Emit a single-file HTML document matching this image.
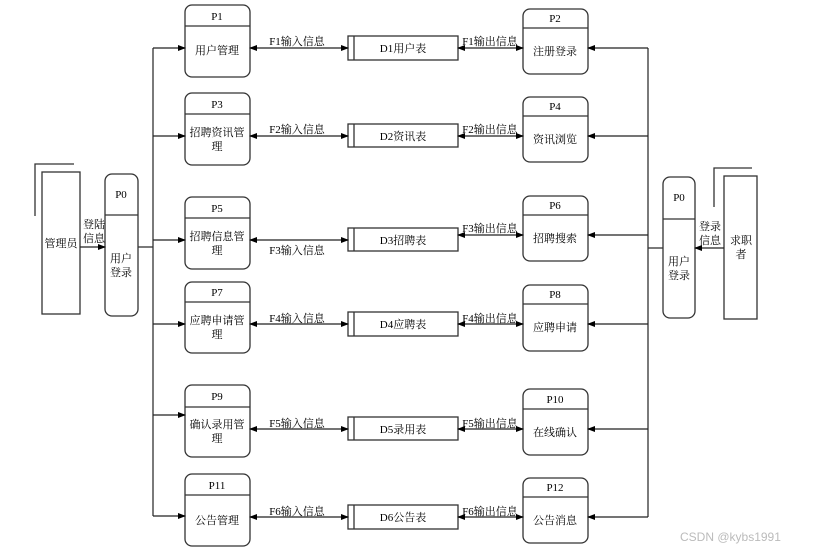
<!DOCTYPE html>
<html><head><meta charset="utf-8"><style>body{margin:0;background:#fff}svg{display:block}text{font-family:"Liberation Serif","Noto Serif CJK SC","Noto Sans CJK SC",serif;font-size:11px;fill:#000}</style></head><body>
<svg width="813" height="551" viewBox="0 0 813 551" xmlns="http://www.w3.org/2000/svg">
<defs><marker id="a" markerWidth="8" markerHeight="6" refX="7" refY="3" orient="auto-start-reverse" markerUnits="userSpaceOnUse"><path d="M0,0L8,3L0,6z" fill="#000"/></marker></defs>
<g fill="none" stroke="#333" stroke-width="1.3">
<!-- left processes -->
<rect x="185" y="5" width="65" height="72" rx="7"/><line x1="185" y1="26" x2="250" y2="26"/>
<rect x="185" y="93" width="65" height="72" rx="7"/><line x1="185" y1="114" x2="250" y2="114"/>
<rect x="185" y="197" width="65" height="72" rx="7"/><line x1="185" y1="218" x2="250" y2="218"/>
<rect x="185" y="282" width="65" height="71" rx="7"/><line x1="185" y1="302" x2="250" y2="302"/>
<rect x="185" y="385" width="65" height="72" rx="7"/><line x1="185" y1="407" x2="250" y2="407"/>
<rect x="185" y="474" width="65" height="72" rx="7"/><line x1="185" y1="495" x2="250" y2="495"/>
<!-- right processes -->
<rect x="523" y="9" width="65" height="65" rx="7"/><line x1="523" y1="28" x2="588" y2="28"/>
<rect x="523" y="97" width="65" height="65" rx="7"/><line x1="523" y1="116" x2="588" y2="116"/>
<rect x="523" y="196" width="65" height="65" rx="7"/><line x1="523" y1="215" x2="588" y2="215"/>
<rect x="523" y="285" width="65" height="66" rx="7"/><line x1="523" y1="304" x2="588" y2="304"/>
<rect x="523" y="389" width="65" height="66" rx="7"/><line x1="523" y1="409" x2="588" y2="409"/>
<rect x="523" y="478" width="65" height="65" rx="7"/><line x1="523" y1="497" x2="588" y2="497"/>
<!-- stores -->
<rect x="348" y="36" width="110" height="24"/><line x1="354" y1="36" x2="354" y2="60"/>
<rect x="348" y="124" width="110" height="23"/><line x1="354" y1="124" x2="354" y2="147"/>
<rect x="348" y="228" width="110" height="23"/><line x1="354" y1="228" x2="354" y2="251"/>
<rect x="348" y="312" width="110" height="24"/><line x1="354" y1="312" x2="354" y2="336"/>
<rect x="348" y="417" width="110" height="23"/><line x1="354" y1="417" x2="354" y2="440"/>
<rect x="348" y="505" width="110" height="24"/><line x1="354" y1="505" x2="354" y2="529"/>
<!-- P0s -->
<rect x="105" y="174" width="33" height="142" rx="7"/><line x1="105" y1="215" x2="138" y2="215"/>
<rect x="663" y="177" width="32" height="141" rx="7"/><line x1="663" y1="219" x2="695" y2="219"/>
<!-- externals -->
<rect x="42" y="172" width="38" height="142"/><polyline points="35,216 35,164 74,164"/>
<rect x="724" y="176" width="33" height="143"/><polyline points="714,207 714,168 752,168"/>
<!-- buses -->
<line x1="153" y1="48" x2="153" y2="516"/><line x1="138" y1="247" x2="153" y2="247"/>
<line x1="648" y1="48" x2="648" y2="517"/><line x1="648" y1="248" x2="663" y2="248"/>
</g>
<g stroke="#222" stroke-width="1.2" marker-end="url(#a)">
<line x1="153" y1="48" x2="185" y2="48"/><line x1="153" y1="136" x2="185" y2="136"/><line x1="153" y1="240" x2="185" y2="240"/><line x1="153" y1="324" x2="185" y2="324"/><line x1="153" y1="415" x2="185" y2="415"/><line x1="153" y1="516" x2="185" y2="516"/>
<line x1="648" y1="48" x2="588" y2="48"/><line x1="648" y1="136" x2="588" y2="136"/><line x1="648" y1="235" x2="588" y2="235"/><line x1="648" y1="324" x2="588" y2="324"/><line x1="648" y1="429" x2="588" y2="429"/><line x1="648" y1="517" x2="588" y2="517"/>
<line x1="80" y1="247" x2="105" y2="247"/><line x1="724" y1="248" x2="695" y2="248"/>
</g>
<g stroke="#222" stroke-width="1.2" marker-start="url(#a)" marker-end="url(#a)">
<line x1="250" y1="48" x2="348" y2="48"/><line x1="458" y1="48" x2="523" y2="48"/>
<line x1="250" y1="136" x2="348" y2="136"/><line x1="458" y1="136" x2="523" y2="136"/>
<line x1="250" y1="240" x2="348" y2="240"/><line x1="458" y1="235" x2="523" y2="235"/>
<line x1="250" y1="324" x2="348" y2="324"/><line x1="458" y1="324" x2="523" y2="324"/>
<line x1="250" y1="429" x2="348" y2="429"/><line x1="458" y1="429" x2="523" y2="429"/>
<line x1="250" y1="517" x2="348" y2="517"/><line x1="458" y1="517" x2="523" y2="517"/>
</g>
<g text-anchor="middle">
<text x="217" y="20">P1</text><text x="217" y="54">用户管理</text>
<text x="217" y="108">P3</text><text x="217" y="136">招聘资讯管</text><text x="217" y="150">理</text>
<text x="217" y="212">P5</text><text x="217" y="240">招聘信息管</text><text x="217" y="254">理</text>
<text x="217" y="296">P7</text><text x="217" y="324">应聘申请管</text><text x="217" y="338">理</text>
<text x="217" y="400">P9</text><text x="217" y="428">确认录用管</text><text x="217" y="442">理</text>
<text x="217" y="489">P11</text><text x="217" y="524">公告管理</text>
<text x="555" y="22">P2</text><text x="555" y="55">注册登录</text>
<text x="555" y="110">P4</text><text x="555" y="143">资讯浏览</text>
<text x="555" y="209">P6</text><text x="555" y="242">招聘搜索</text>
<text x="555" y="298">P8</text><text x="555" y="331">应聘申请</text>
<text x="555" y="403">P10</text><text x="555" y="436">在线确认</text>
<text x="555" y="491">P12</text><text x="555" y="524">公告消息</text>
<text x="403" y="52">D1用户表</text><text x="403" y="140">D2资讯表</text><text x="403" y="244">D3招聘表</text><text x="403" y="328">D4应聘表</text><text x="403" y="433">D5录用表</text><text x="403" y="521">D6公告表</text>
<text x="297" y="45">F1输入信息</text><text x="297" y="133">F2输入信息</text><text x="297" y="254">F3输入信息</text><text x="297" y="322">F4输入信息</text><text x="297" y="427">F5输入信息</text><text x="297" y="515">F6输入信息</text>
<text x="490" y="45">F1输出信息</text><text x="490" y="133">F2输出信息</text><text x="490" y="232">F3输出信息</text><text x="490" y="322">F4输出信息</text><text x="490" y="427">F5输出信息</text><text x="490" y="515">F6输出信息</text>
<text x="121" y="198">P0</text><text x="121" y="262">用户</text><text x="121" y="276">登录</text>
<text x="679" y="201">P0</text><text x="679" y="265">用户</text><text x="679" y="279">登录</text>
<text x="61" y="247">管理员</text><text x="741" y="244">求职</text><text x="741" y="258">者</text>
<text x="94" y="228">登陆</text><text x="94" y="242">信息</text>
<text x="710" y="230">登录</text><text x="710" y="244">信息</text>
</g>
<text x="680" y="541" style="font-family:'Liberation Sans','Noto Sans CJK SC',sans-serif;font-size:12px;fill:#bbb">CSDN @kybs1991</text>
</svg>
</body></html>
